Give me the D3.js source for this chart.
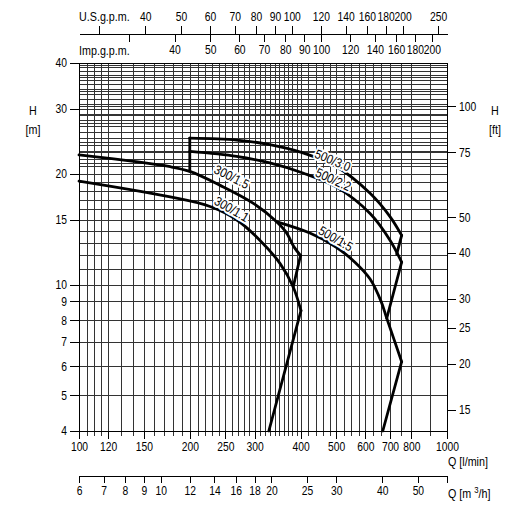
<!DOCTYPE html>
<html>
<head>
<meta charset="utf-8">
<script src="https://cdn.jsdelivr.net/npm/d3@7"></script>
<style>
  body { margin: 0; background: #fff; }
  svg { font-family: "Liberation Sans", Arial, sans-serif; }
  .grid line { stroke: #333; stroke-width: 1; shape-rendering: crispEdges; }
  .axis path, .axis line { stroke: #000; shape-rendering: crispEdges; }
  .axis text { font-size: 12px; fill: #000; }
  .title { font-size: 12.5px; fill: #000; }
  .curve { fill: none; stroke: #000; stroke-width: 2.8; stroke-linejoin: round; stroke-linecap: round; }
  .curve-label { font-size: 13px; fill: #000; stroke: #fff; stroke-width: 4; paint-order: stroke; }
</style>
</head>
<body>
<div id="chart"></div>
<script>
// Pump curves, Q [l/min] vs H [m]
const curve300_11 = [[100, 19.1], [177, 17.3], [227, 16.3], [268, 15.0], [310, 13.2], [352, 11.4], [382, 9.85], [401, 8.5]];
const curve300_15 = [[100, 22.5], [177, 20.9], [200, 20.3], [242, 18.6], [297, 16.65], [345, 14.8], [365, 13.9], [385, 12.6], [400, 12.0]];
const curve500_15 = [[345, 14.8], [424, 13.8], [499, 12.65], [562, 11.5], [618, 10.35], [662, 9.0], [686, 8.1], [753, 6.17]];
const curve500_22 = [[200, 23.0], [268, 22.3], [330, 21.4], [406, 20.1], [501, 18.4], [618, 15.6], [700, 13.2], [753, 11.5]];
const curve500_30 = [[200, 25.0], [268, 24.7], [330, 24.0], [406, 22.8], [501, 20.9], [618, 17.7], [700, 15.3], [753, 13.6]];

// straight limit lines closing the curves
const limit300 = [[[400, 12.0], [382, 9.85]], [[401, 8.5], [328, 4.0]]];
const limit500 = [[[200, 25.0], [200, 20.3]], [[753, 13.6], [730, 12.1]], [[753, 11.5], [686, 8.1]], [[753, 6.17], [669, 4.0]]];

const curveNames = ["300/1.1", "300/1.5", "500/1.5", "500/2.2", "500/3.0"];

// axis ticks
const ticksQ = [100, 120, 150, 200, 250, 300, 400, 500, 600, 700, 800, 1000];
const ticksM3h = [6, 7, 8, 9, 10, 12, 14, 16, 18, 20, 25, 30, 40, 50];
const ticksUS = [30, 40, 50, 60, 70, 80, 90, 100, 120, 140, 160, 180, 200, 250];
const ticksImp = [30, 40, 50, 60, 70, 80, 90, 100, 120, 140, 160, 180, 200];
const ticksH = [4, 5, 6, 7, 8, 9, 10, 15, 20, 30, 40];
const ticksFt = [15, 20, 25, 30, 40, 50, 75, 100];

// grid
const gridQ = [100, 105, 110, 115, 120, 130, 140, 150, 160, 170, 180, 190, 200, 210, 220, 230, 240, 250, 260, 270, 280, 290,
  300, 310, 320, 330, 340, 350, 360, 370, 380, 390, 400, 420, 440, 460, 480, 500, 525, 550, 575, 600, 630, 660, 700, 750, 800, 900, 1000];
const gridH = d3.range(4, 41, 1);
const gridFt = d3.range(70, 131, 5);

const L_PER_USGAL = 3.78541, L_PER_IMPGAL = 4.54609, M_PER_FT = 0.3048, L_PER_M3H = 1000 / 60;
const SQUEEZE = 0.86; // narrow lettering of the original sheet

const width = 526, height = 520;
const plotL = 79, plotR = 447, plotT = 63, plotB = 431;

const svg = d3.select("#chart").append("svg")
  .attr("width", width).attr("height", height);

const x = d3.scaleLog([100, 1000], [plotL, plotR]);
const y = d3.scaleLog([4, 40], [plotB, plotT]);
const xM3h = d3.scaleLog([100 / L_PER_M3H, 1000 / L_PER_M3H], [plotL, plotR]);
const xUS = d3.scaleLog([100 / L_PER_USGAL, 1000 / L_PER_USGAL], [plotL, plotR]);
const xImp = d3.scaleLog([100 / L_PER_IMPGAL, 1000 / L_PER_IMPGAL], [plotL, plotR]);
const yFt = d3.scaleLog([4 / M_PER_FT, 40 / M_PER_FT], [plotB, plotT]);

// grid lines
let grid = svg.append("g").classed("grid", true);
grid.selectAll("line.v").data(gridQ).join("line").classed("v", true)
  .attr("x1", d => Math.round(x(d)) + 0.5).attr("x2", d => Math.round(x(d)) + 0.5)
  .attr("y1", plotT).attr("y2", plotB + 5);
let hLines = gridH.concat(gridFt.map(d => d * M_PER_FT));
grid.selectAll("line.h").data(hLines).join("line").classed("h", true)
  .attr("x1", plotL).attr("x2", plotR)
  .attr("y1", d => Math.round(y(d)) + 0.5).attr("y2", d => Math.round(y(d)) + 0.5);

function styleAxis(g) {
  g.attr("font-size", null).attr("font-family", null);
  g.selectAll(".tick line").attr("stroke", "#000");
  g.select(".domain").attr("stroke", "#000");
  // squeeze text horizontally round its own anchor
  g.selectAll(".tick text").each(function () {
    let t = d3.select(this), tx = +t.attr("x") || 0;
    t.attr("x", tx / SQUEEZE).attr("transform", `scale(${SQUEEZE},1)`);
  });
}

// left H [m]
svg.append("g").classed("axis", true)
  .attr("transform", `translate(${plotL},0)`)
  .call(d3.axisLeft(y).tickValues(ticksH).tickFormat(d3.format("d")).tickSize(9).tickSizeOuter(0))
  .call(styleAxis);

// right H [ft]
svg.append("g").classed("axis", true)
  .attr("transform", `translate(${plotR},0)`)
  .call(d3.axisRight(yFt).tickValues(ticksFt).tickFormat(d3.format("d")).tickSize(9).tickSizeOuter(0))
  .call(styleAxis);

// bottom Q [l/min]
svg.append("g").classed("axis", true)
  .attr("transform", `translate(0,${plotB})`)
  .call(d3.axisBottom(x).tickValues(ticksQ).tickFormat(d3.format("d")).tickSize(8).tickSizeOuter(0))
  .call(styleAxis);

// bottom Q [m3/h]
svg.append("g").classed("axis", true)
  .attr("transform", `translate(0,476)`)
  .call(d3.axisBottom(xM3h).tickValues(ticksM3h).tickFormat(d3.format("d")).tickSize(7).tickSizeOuter(7))
  .call(styleAxis);

// top US / Imp gpm share one line
svg.append("g").classed("axis", true)
  .attr("transform", `translate(0,34)`)
  .call(d3.axisTop(xUS).tickValues(ticksUS).tickFormat(d => d === 30 ? "" : d).tickSize(8).tickSizeOuter(0))
  .call(styleAxis)
  .selectAll(".tick text").attr("y", -13);
svg.append("g").classed("axis", true)
  .attr("transform", `translate(0,34)`)
  .call(d3.axisBottom(xImp).tickValues(ticksImp).tickFormat(d => d === 30 ? "" : d).tickSize(8).tickSizeOuter(0))
  .call(styleAxis);

// plot frame
svg.append("rect")
  .attr("x", plotL + 0.5).attr("y", plotT + 0.5)
  .attr("width", plotR - plotL).attr("height", plotB - plotT)
  .attr("fill", "none").attr("stroke", "#000").attr("shape-rendering", "crispEdges");

// titles
let titles = [
  ["U.S.g.p.m.", plotL, 21, "start"],
  ["Imp.g.p.m.", plotL, 55, "start"],
  ["H", 33, 115, "middle"], ["[m]", 33, 134, "middle"],
  ["H", 495, 115, "middle"], ["[ft]", 495, 134, "middle"],
  ["Q [l/min]", 448, 466, "start"]
];
svg.selectAll("text.title").data(titles).join("text").classed("title", true)
  .attr("transform", d => `translate(${d[1]},${d[2]}) scale(${SQUEEZE},1)`)
  .attr("text-anchor", d => d[3])
  .text(d => d[0]);
let qm3 = svg.append("text").classed("title", true)
  .attr("transform", `translate(448,498) scale(${SQUEEZE},1)`);
qm3.append("tspan").text("Q [m ");
qm3.append("tspan").attr("font-size", "9px").attr("dy", -5).text("3");
qm3.append("tspan").attr("dy", 5).text("/h]");

// curves
let lineGen = d3.line().x(d => x(d[0])).y(d => y(d[1])).curve(d3.curveCatmullRom.alpha(0.5));
let straight = d3.line().x(d => x(d[0])).y(d => y(d[1]));
let curves = [curve300_11, curve300_15, curve500_15, curve500_22, curve500_30];

svg.append("g").selectAll("path").data(curves).join("path")
  .classed("curve", true).attr("d", lineGen);
svg.append("g").selectAll("path").data(limit300.concat(limit500)).join("path")
  .classed("curve", true).attr("d", straight);

// labels laid along their curve (placement: q, h on curve, angle, baseline shift)
let labelPlace = {
  "300/1.1": [254, 15.4, 30, -3],
  "300/1.5": [251, 18.3, 27, -8],
  "500/1.5": [487, 12.8, 30, -3],
  "500/2.2": [484, 18.7, 25, -1],
  "500/3.0": [484, 21.2, 23, 0]
};
svg.append("g").selectAll("text").data(curveNames).join("text")
  .classed("curve-label", true)
  .attr("text-anchor", "middle").attr("dy", d => labelPlace[d][3])
  .attr("transform", d => {
    let p = labelPlace[d];
    return `translate(${x(p[0])},${y(p[1])}) rotate(${p[2]}) scale(${SQUEEZE},1)`;
  })
  .text(d => d);
</script>
</body>
</html>
